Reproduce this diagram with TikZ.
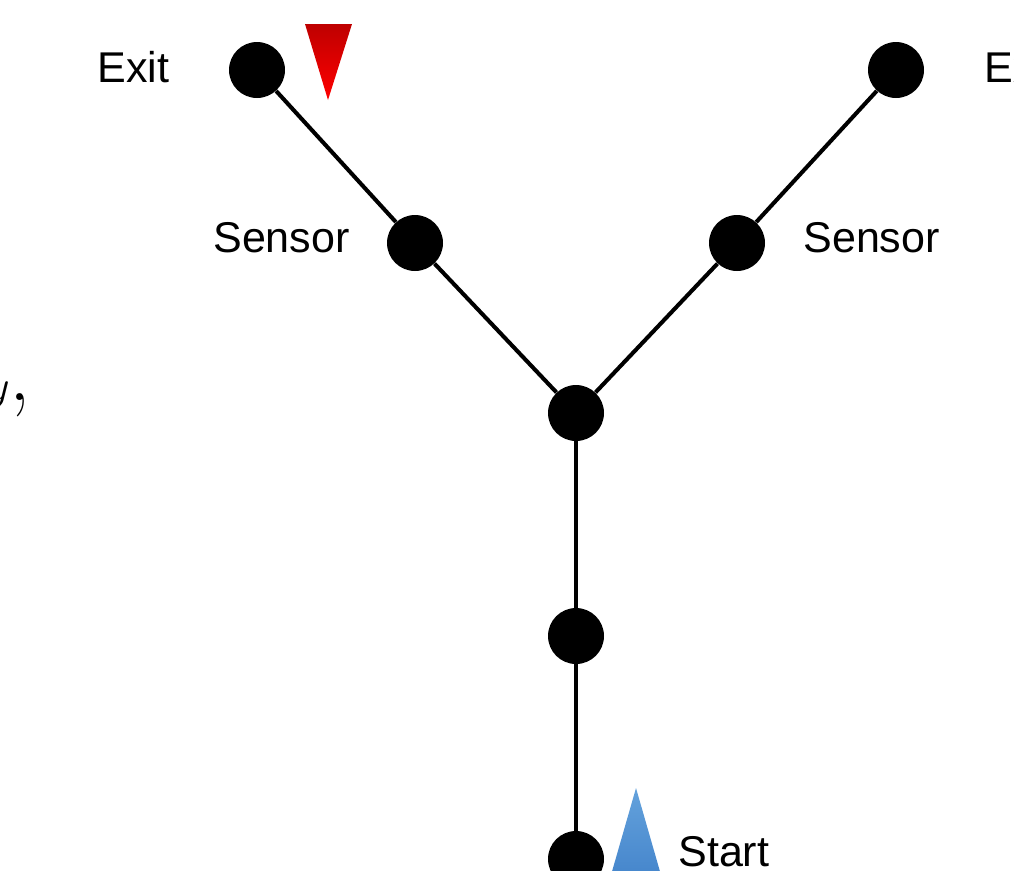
\documentclass[tikz,border=0pt]{standalone}
\usepackage{fontspec}
\setmainfont{Liberation Sans}
\newfontfamily\mathserif{Latin Modern Roman}
\definecolor{exitTop}{HTML}{BE0000}
\definecolor{exitBot}{HTML}{FF0000}
\definecolor{startTop}{HTML}{64A2DC}
\definecolor{startBot}{HTML}{4686CC}
\begin{document}
\begin{tikzpicture}[x=0.02cm,y=-0.02cm,
  station/.style={circle,fill=black,inner sep=0pt,minimum size=1.12cm},
  track/.style={line width=2.3pt,black},
  lbl/.style={font=\fontsize{24.5}{28}\selectfont,inner sep=0pt},
]
\useasboundingbox (0,0) rectangle (1014,870);

% stations
\node[station] (exitL) at (257,70) {};
\node[station] (exitR) at (896,70) {};
\node[station] (sensL) at (415,243) {};
\node[station] (sensR) at (737,243) {};
\node[station] (junc)  at (576,413) {};
\node[station] (mid)   at (576,636) {};
\node[station] (start) at (576,859) {};

% tracks
\draw[track] (exitL) -- (sensL) -- (junc);
\draw[track] (exitR) -- (sensR) -- (junc);
\draw[track] (junc) -- (mid) -- (start);

% labels
\node[lbl,anchor=west] (lExitL) at (97,67) {Exit};
\node[lbl,anchor=west] (lExitR) at (984,67) {Exit};
\node[lbl,anchor=west] (lSensL) at (213,238) {Sensor};
\node[lbl,anchor=west] (lSensR) at (803,238) {Sensor};
\node[lbl,anchor=west] (lStart) at (678,852) {Start};

% partial formula at the left edge
\node[anchor=base east,inner sep=0pt,font=\mathserif\fontsize{48}{54}\selectfont] (frag) at (31,400) {$y$,};

% direction markers
\shade[top color=exitTop,bottom color=exitBot] (305,24) -- (352,24) -- (328,100) -- cycle;
\shade[top color=startTop,bottom color=startBot] (636,788) -- (661,875) -- (611,875) -- cycle;
\end{tikzpicture}
\end{document}
